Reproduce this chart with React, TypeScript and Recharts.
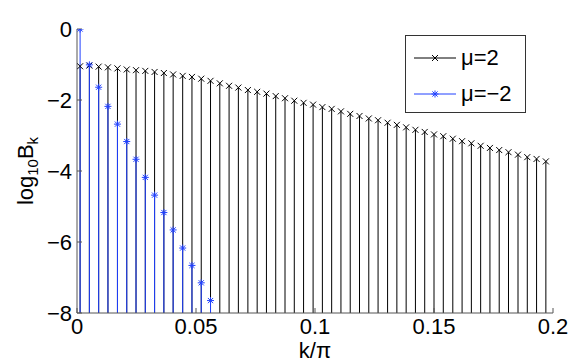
import {
  ScatterChart,
  Scatter,
  XAxis,
  YAxis,
  ErrorBar,
  Legend,
} from "recharts";

// k/pi positions of the stems
const kOverPi = [
  0.0013, 0.0052, 0.0091, 0.013, 0.017, 0.0209, 0.0248, 0.0287, 0.0326, 0.0365,
  0.0404, 0.0444, 0.0483, 0.0522, 0.0561, 0.06, 0.0639, 0.0678, 0.0718, 0.0757,
  0.0796, 0.0835, 0.0874, 0.0913, 0.0952, 0.0992, 0.1031, 0.107, 0.1109, 0.1148,
  0.1187, 0.1226, 0.1265, 0.1305, 0.1344, 0.1383, 0.1422, 0.1461, 0.15, 0.1539,
  0.1579, 0.1618, 0.1657, 0.1696, 0.1735, 0.1774, 0.1813, 0.1853, 0.1892, 0.1931,
  0.197,
];

// log10 B_k, mu = 2
const muPlus = [
  -1.05, -1.03, -1.06, -1.08, -1.11, -1.14, -1.16, -1.18, -1.21, -1.24,
  -1.28, -1.32, -1.35, -1.4, -1.46, -1.53, -1.6, -1.65, -1.72, -1.77,
  -1.82, -1.89, -1.95, -2.02, -2.08, -2.13, -2.2, -2.25, -2.32, -2.39,
  -2.45, -2.52, -2.57, -2.64, -2.7, -2.77, -2.84, -2.9, -2.97, -3.02,
  -3.09, -3.16, -3.22, -3.29, -3.35, -3.41, -3.47, -3.54, -3.61, -3.66,
  -3.73,
];

// log10 B_k, mu = -2 (the rest falls below -8)
const muMinus = [
  0, -1.01, -1.64, -2.18, -2.68, -3.17, -3.67, -4.18, -4.68, -5.17,
  -5.66, -6.17, -6.66, -7.15, -7.65,
];

const xTicks = [0, 0.05, 0.1, 0.15, 0.2];
const yTicks = [0, -2, -4, -6, -8];
const Y_MIN = -8;

const BLUE = "#2040ff";
const FONT = "'Liberation Sans', Arial, Helvetica, sans-serif";

// stem goes from the bottom of the axes up to the value
const toStems = (vals: number[]) =>
  vals.map((v, i) => ({ x: kOverPi[i], v, err: [v - Y_MIN, 0] }));

const plusData = toStems(muPlus);
const minusData = toStems(muMinus);

const fmt = (v: number) => (v < 0 ? `\u2212${-v}` : `${v}`);

const Cross = (p: any) => {
  const { cx, cy } = p;
  const r = 3;
  return (
    <g stroke="#000" strokeWidth={1}>
      <line x1={cx - r} y1={cy - r} x2={cx + r} y2={cy + r} />
      <line x1={cx - r} y1={cy + r} x2={cx + r} y2={cy - r} />
    </g>
  );
};

const Star = (p: any) => {
  const { cx, cy } = p;
  const r = 3.5;
  const d = 2.6;
  return (
    <g stroke={BLUE} strokeWidth={1}>
      <line x1={cx - r} y1={cy} x2={cx + r} y2={cy} />
      <line x1={cx} y1={cy - r} x2={cx} y2={cy + r} />
      <line x1={cx - d} y1={cy - d} x2={cx + d} y2={cy + d} />
      <line x1={cx - d} y1={cy + d} x2={cx + d} y2={cy - d} />
    </g>
  );
};

const XLabel = (p: any) => {
  const { x, y, width } = p.viewBox;
  return (
    <text x={x + width / 2} y={y + 45} textAnchor="middle" fontSize={22} fontFamily={FONT} fill="#000">
      k/π
    </text>
  );
};

const YLabel = (p: any) => {
  const { y, height } = p.viewBox;
  const cx = 33;
  const cy = y + height / 2;
  return (
    <text
      x={cx}
      y={cy}
      transform={`rotate(-90 ${cx} ${cy})`}
      textAnchor="middle"
      fontSize={22}
      fontFamily={FONT}
      fill="#000"
    >
      log
      <tspan fontSize={15} dy={5}>10</tspan>
      <tspan dy={-5}>B</tspan>
      <tspan fontSize={15} dy={5}>k</tspan>
    </text>
  );
};

const LegendRow = ({ label, color, marker }: { label: string; color: string; marker: "x" | "*" }) => (
  <div style={{ display: "flex", alignItems: "center", height: 36 }}>
    <svg width={52} height={20} style={{ flex: "none" }}>
      <line x1={8} y1={10} x2={50} y2={10} stroke={color} strokeWidth={1} />
      {marker === "x" ? <Cross cx={29} cy={10} /> : <Star cx={29} cy={10} />}
    </svg>
    <span style={{ fontSize: 22, fontFamily: FONT, color: "#000", marginLeft: 3 }}>{label}</span>
  </div>
);

const renderLegend = () => (
  <div
    style={{
      width: 119,
      height: 72,
      border: "1px solid #333",
      background: "#fff",
      paddingTop: 4,
      boxSizing: "content-box",
    }}
  >
    <LegendRow label="μ=2" color="#000" marker="x" />
    <LegendRow label="μ=−2" color={BLUE} marker="*" />
  </div>
);

export default function App() {
  return (
    <div style={{ position: "absolute", left: 0, top: 0, background: "#fff" }}>
      <ScatterChart width={584} height={363} margin={{ top: 29, right: 31, bottom: 0, left: 0 }}>
        <XAxis
          type="number"
          dataKey="x"
          domain={[0, 0.2]}
          ticks={xTicks}
          interval={0}
          allowDataOverflow
          height={50}
          stroke="#555"
          tickSize={-5}
          tickMargin={10}
          tick={{ fontSize: 22, fontFamily: FONT, fill: "#000" }}
          tickFormatter={fmt}
          label={{ content: <XLabel /> }}
        />
        <YAxis
          type="number"
          dataKey="v"
          domain={[Y_MIN, 0]}
          ticks={yTicks}
          interval={0}
          allowDataOverflow
          width={77}
          stroke="#555"
          tickSize={-5}
          tickMargin={10}
          tick={{ fontSize: 22, fontFamily: FONT, fill: "#000" }}
          tickFormatter={fmt}
          label={{ content: <YLabel /> }}
        />
        <Legend
          verticalAlign="middle"
          align="center"
          content={renderLegend}
          wrapperStyle={{ position: "absolute", left: 405, top: 35, width: 122, height: 80 }}
        />
        <Scatter name="μ=2" data={plusData} shape={Cross} isAnimationActive={false}>
          <ErrorBar dataKey="err" direction="y" width={0} stroke="#000" strokeWidth={1} />
        </Scatter>
        <Scatter name="μ=−2" data={minusData} shape={Star} isAnimationActive={false}>
          <ErrorBar dataKey="err" direction="y" width={0} stroke={BLUE} strokeWidth={1} />
        </Scatter>
      </ScatterChart>
    </div>
  );
}
